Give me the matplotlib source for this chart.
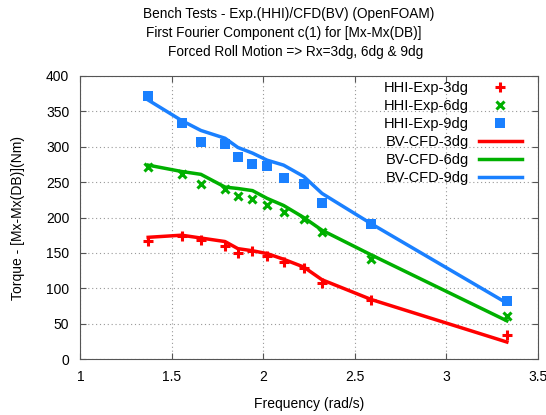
import numpy as np
import matplotlib
matplotlib.use('Agg')
import matplotlib.pyplot as plt

plt.rcParams['font.family'] = ['Liberation Sans', 'DejaVu Sans']

# Frequencies of the bench tests (rad/s)
freq = [1.37, 1.553, 1.658, 1.79, 1.86, 1.94, 2.02, 2.11, 2.22, 2.32, 2.59, 3.33]

# HHI experiments
exp_3dg = [167, 174, 168, 160, 150, 152, 146, 137, 129, 108, 84, 34]
exp_6dg = [272, 262, 247, 240, 230, 226, 218, 208, 198, 180, 141, 61]
exp_9dg = [372, 333, 307, 304, 285, 275, 273, 256, 247, 221, 191, 82]

# BV CFD results
cfd_3dg = [172, 175, 171, 166, 156, 153, 149, 141, 130, 112, 84, 24]
cfd_6dg = [274, 265, 261, 243, 241, 238, 227, 217, 200, 182, 147, 54]
cfd_9dg = [366, 337, 323, 312, 299, 291, 281, 274, 258, 234, 191, 79]

title_lines = ["Bench Tests - Exp.(HHI)/CFD(BV) (OpenFOAM)",
               "First Fourier Component c(1) for [Mx-Mx(DB)]",
               "Forced Roll Motion => Rx=3dg, 6dg & 9dg"]

red, green, blue = '#ff0000', '#00b000', '#1a80ff'

fig = plt.figure(figsize=(5.46, 4.15), dpi=100)
ax = fig.add_axes([0.1474, 0.1349, 0.8379, 0.682])

ax.plot(freq, exp_3dg, linestyle='none', marker='+', color=red, ms=7, mew=2.2, label='HHI-Exp-3dg')
ax.plot(freq, exp_6dg, linestyle='none', marker='x', color=green, ms=6, mew=2.2, label='HHI-Exp-6dg')
ax.plot(freq, exp_9dg, linestyle='none', marker='s', color=blue, ms=7, mew=0, label='HHI-Exp-9dg')
ax.plot(freq, cfd_3dg, color=red, lw=2.5, label='BV-CFD-3dg')
ax.plot(freq, cfd_6dg, color=green, lw=2.5, label='BV-CFD-6dg')
ax.plot(freq, cfd_9dg, color=blue, lw=2.5, label='BV-CFD-9dg')

ax.set_xlim(1, 3.5)
ax.set_ylim(0, 400)
ax.set_xticks([1, 1.5, 2, 2.5, 3, 3.5])
ax.set_xticklabels(['1', '1.5', '2', '2.5', '3', '3.5'])
ax.set_yticks(np.arange(0, 401, 50))
ax.grid(True, color='#999999', linestyle=(0, (1, 2.5)), linewidth=0.8)
ax.tick_params(direction='in', top=True, right=True, labelsize=10, length=4, pad=8, color='#555555')
for s in ax.spines.values():
    s.set_color('#555555')

ax.set_xlabel('Frequency (rad/s)', fontsize=10, labelpad=9)
ax.set_ylabel('Torque - [Mx-Mx(DB)](Nm)', fontsize=10, labelpad=15)

ax.legend(loc='upper right', frameon=False, markerfirst=False, fontsize=10.5,
          handlelength=2.95, handletextpad=0.7, labelspacing=0.28,
          borderpad=0, borderaxespad=0,
          bbox_to_anchor=(522 / 546, 1 - 81 / 415), bbox_transform=fig.transFigure)

# three title lines, each placed as in the original
for txt, xc, yc in zip(title_lines, [289, 284, 296], [14, 33, 52]):
    fig.text(xc / 546, 1 - yc / 415, txt, ha='center', va='center', fontsize=9.8)

fig.savefig('out.png', dpi=100)
